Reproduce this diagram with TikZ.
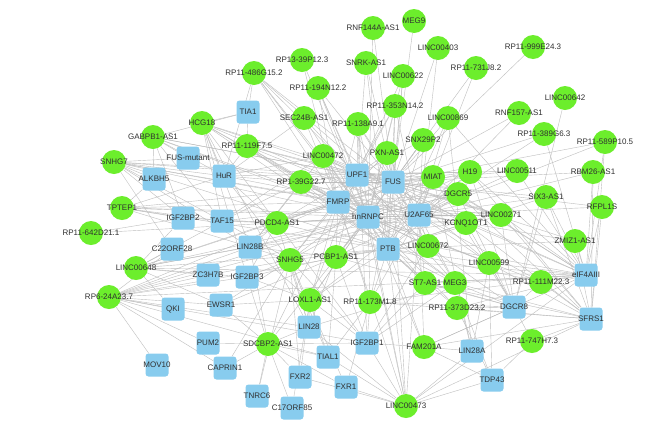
\documentclass[tikz,border=0pt]{standalone}
\usepackage{fontspec}
\setmainfont{Liberation Sans}
\pgfdeclarelayer{background}
\pgfsetlayers{background,main}
\definecolor{lncg}{HTML}{6CEE2C}
\definecolor{rbpb}{HTML}{88CCEE}
\definecolor{edgeg}{HTML}{BEBEBE}
\definecolor{txt}{HTML}{303030}
\tikzset{
  lnc/.style={circle,fill=lncg,minimum size=24pt,inner sep=0pt,font=\fontsize{8}{9}\selectfont,text=txt},
  rbp/.style={rectangle,rounded corners=3pt,fill=rbpb,minimum size=23pt,inner sep=0pt,font=\fontsize{8}{9}\selectfont,text=txt},
  edge/.style={draw=edgeg,line width=0.4pt}
}
\newcommand{\lbl}[1]{\makebox[0pt]{#1}}
\begin{document}
\begin{tikzpicture}[x=1pt,y=-1pt]
\useasboundingbox (0,0) rectangle (668,429);
% lncRNA nodes
\node[lnc] (g1) at (373,28) {\lbl{RNF144A-AS1}};
\node[lnc] (g2) at (414,21) {\lbl{MEG9}};
\node[lnc] (g3) at (438,48) {\lbl{LINC00403}};
\node[lnc] (g4) at (533,47) {\lbl{RP11-999E24.3}};
\node[lnc] (g5) at (476,68) {\lbl{RP11-731J8.2}};
\node[lnc] (g6) at (366,63) {\lbl{SNRK-AS1}};
\node[lnc] (g7) at (403,76) {\lbl{LINC00622}};
\node[lnc] (g8) at (302,60) {\lbl{RP13-39P12.3}};
\node[lnc] (g9) at (254,73) {\lbl{RP11-486G15.2}};
\node[lnc] (g10) at (318,88) {\lbl{RP11-194N12.2}};
\node[lnc] (g11) at (395,106) {\lbl{RP11-353N14.2}};
\node[lnc] (g12) at (448,118) {\lbl{LINC00869}};
\node[lnc] (g13) at (565,98) {\lbl{LINC00642}};
\node[lnc] (g14) at (519,113) {\lbl{RNF157-AS1}};
\node[lnc] (g15) at (544,134) {\lbl{RP11-389G6.3}};
\node[lnc] (g16) at (605,142) {\lbl{RP11-589P10.5}};
\node[lnc] (g17) at (304,118) {\lbl{SEC24B-AS1}};
\node[lnc] (g18) at (358,124) {\lbl{RP11-138A9.1}};
\node[lnc] (g19) at (423,140) {\lbl{SNX29P2}};
\node[lnc] (g20) at (202,123) {\lbl{HCG18}};
\node[lnc] (g21) at (153,137) {\lbl{GABPB1-AS1}};
\node[lnc] (g22) at (247,146) {\lbl{RP11-119F7.5}};
\node[lnc] (g23) at (114,162) {\lbl{SNHG7}};
\node[lnc] (g24) at (122,208) {\lbl{TPTEP1}};
\node[lnc] (g25) at (91,233) {\lbl{RP11-642D21.1}};
\node[lnc] (g26) at (136,268) {\lbl{LINC00648}};
\node[lnc] (g27) at (109,297) {\lbl{RP6-24A23.7}};
\node[lnc] (g28) at (323,156) {\lbl{LINC00472}};
\node[lnc] (g29) at (387,153) {\lbl{PXN-AS1}};
\node[lnc] (g30) at (433,177) {\lbl{MIAT}};
\node[lnc] (g31) at (301,182) {\lbl{RP1-39G22.7}};
\node[lnc] (g32) at (277,223) {\lbl{PDCD4-AS1}};
\node[lnc] (g33) at (336,257) {\lbl{PCBP1-AS1}};
\node[lnc] (g34) at (428,246) {\lbl{LINC00672}};
\node[lnc] (g35) at (290,260) {\lbl{SNHG5}};
\node[lnc] (g36) at (425,283) {\lbl{ST7-AS1}};
\node[lnc] (g37) at (470,172) {\lbl{H19}};
\node[lnc] (g38) at (517,171) {\lbl{LINC00511}};
\node[lnc] (g39) at (593,172) {\lbl{RBM26-AS1}};
\node[lnc] (g40) at (458,194) {\lbl{DGCR5}};
\node[lnc] (g41) at (546,197) {\lbl{SIX3-AS1}};
\node[lnc] (g42) at (602,207) {\lbl{RFPL1S}};
\node[lnc] (g43) at (501,215) {\lbl{LINC00271}};
\node[lnc] (g44) at (466,223) {\lbl{KCNQ1OT1}};
\node[lnc] (g45) at (575,241) {\lbl{ZMIZ1-AS1}};
\node[lnc] (g46) at (489,263) {\lbl{LINC00599}};
\node[lnc] (g47) at (541,282) {\lbl{RP11-111M22.3}};
\node[lnc] (g48) at (455,283) {\lbl{MEG3}};
\node[lnc] (g49) at (457,308) {\lbl{RP11-373D23.2}};
\node[lnc] (g50) at (532,341) {\lbl{RP11-747H7.3}};
\node[lnc] (g51) at (310,300) {\lbl{LOXL1-AS1}};
\node[lnc] (g52) at (370,302) {\lbl{RP11-173M1.8}};
\node[lnc] (g53) at (268,344) {\lbl{SDCBP2-AS1}};
\node[lnc] (g54) at (424,347) {\lbl{FAM201A}};
\node[lnc] (g55) at (406,406) {\lbl{LINC00473}};
% RBP nodes
\node[rbp] (b1) at (248,112) {\lbl{TIA1}};
\node[rbp] (b2) at (188,158) {\lbl{FUS-mutant}};
\node[rbp] (b3) at (224,176) {\lbl{HuR}};
\node[rbp] (b4) at (154,179) {\lbl{ALKBH5}};
\node[rbp] (b5) at (183,218) {\lbl{IGF2BP2}};
\node[rbp] (b6) at (222,221) {\lbl{TAF15}};
\node[rbp] (b7) at (172,249) {\lbl{C22ORF28}};
\node[rbp] (b8) at (208,275) {\lbl{ZC3H7B}};
\node[rbp] (b9) at (173,309) {\lbl{QKI}};
\node[rbp] (b10) at (221,305) {\lbl{EWSR1}};
\node[rbp] (b11) at (208,343) {\lbl{PUM2}};
\node[rbp] (b12) at (157,365) {\lbl{MOV10}};
\node[rbp] (b13) at (225,368) {\lbl{CAPRIN1}};
\node[rbp] (b14) at (357,175) {\lbl{UPF1}};
\node[rbp] (b15) at (393,182) {\lbl{FUS}};
\node[rbp] (b16) at (338,202) {\lbl{FMRP}};
\node[rbp] (b17) at (368,217) {\lbl{hnRNPC}};
\node[rbp] (b18) at (419,215) {\lbl{U2AF65}};
\node[rbp] (b19) at (250,247) {\lbl{LIN28B}};
\node[rbp] (b20) at (388,249) {\lbl{PTB}};
\node[rbp] (b21) at (247,277) {\lbl{IGF2BP3}};
\node[rbp] (b22) at (586,275) {\lbl{eIF4AIII}};
\node[rbp] (b23) at (514,307) {\lbl{DGCR8}};
\node[rbp] (b24) at (591,319) {\lbl{SFRS1}};
\node[rbp] (b25) at (472,351) {\lbl{LIN28A}};
\node[rbp] (b26) at (492,380) {\lbl{TDP43}};
\node[rbp] (b27) at (309,327) {\lbl{LIN28}};
\node[rbp] (b28) at (367,343) {\lbl{IGF2BP1}};
\node[rbp] (b29) at (328,357) {\lbl{TIAL1}};
\node[rbp] (b30) at (300,377) {\lbl{FXR2}};
\node[rbp] (b31) at (346,387) {\lbl{FXR1}};
\node[rbp] (b32) at (257,396) {\lbl{TNRC6}};
\node[rbp] (b33) at (292,408) {\lbl{C17ORF85}};
\begin{pgfonlayer}{background}
\fill[white] (0,0) rectangle (668,429);
\foreach \a/\l in {g1/{15,17}, g2/{15}, g3/{15,18}, g4/{15}, g5/{15,18}, g6/{14,15,20}, g7/{14,15,17,20}, g8/{16,17}, g9/{1,14,15,16,17,18,20,3}, g10/{14,15,16,17,20}, g11/{14,15,16,17,20,18}, g12/{15,18,22,20,25}, g13/{23}, g14/{15,18}, g15/{15,18,22}, g16/{15,18,22,24}, g17/{14,16,17,3}, g18/{14,15,16,17,20,18,28}, g19/{15,18,17,20,14}, g20/{1,3,14,16,17,20,6,19,21,27,28,15,18}, g21/{1,2,3,4,5,6,14,16,17,15}, g22/{1,3,14,15,16,17,18,20}, g23/{2,3,4,5,6,14,15,16,17,18,20,19,7}, g24/{4,5,6,3,16,17,20,18,15,19}, g25/{5,18}, g26/{5,6,7,8,9,10,19,21,16,17,20,18,15,22}, g27/{7,8,9,10,11,12,13,19,21,16,17,20,27,28,29,18,22}, g28/{14,15,16,17,18,20,3,6,19,22}, g29/{14,15,16,17,18,20}, g30/{14,15,16,17,18,20,22,23,25}, g31/{3,6,14,15,16,17,18,20,19}, g32/{3,5,6,19,21,14,16,17,20,18,15,27}, g33/{14,15,16,17,18,20,19,21,27,28,29,22,23,10}, g34/{15,16,17,18,20,22,23,28,14}, g35/{3,6,10,13,19,21,14,16,17,20,15,27,29,30,8,28,32,31}, g36/{16,17,18,20,22,23,24,28,15}, g37/{14,15,16,17,18,20,22,24,23,3}, g38/{15,18,22,14}, g39/{15,18,22,24}, g40/{14,15,16,17,18,20,22,23,24,6,19}, g41/{15,18,22,24,20,23}, g42/{18,22,24,15}, g43/{15,16,17,18,20,22,24,23,14}, g44/{14,15,16,17,18,20,22,24,23,3,6,19}, g45/{22,18,24,20,15}, g46/{15,17,18,20,22,23,24,25,26,16}, g47/{22,24,23,18,20,17}, g48/{14,15,16,17,18,20,22,23,24,25,26,28,27}, g49/{20,22,23,24,26,17}, g50/{23,24,26}, g51/{14,16,17,20,19,21,27,28,29,30,15,18,10,33}, g52/{16,17,20,18,28,29,22,23,24,15,31}, g53/{10,11,13,19,21,27,28,29,30,32,33,16,17,31}, g54/{20,22,23,24,25,26,28,17,18}, g55/{16,17,20,18,22,24,25,26,27,28,29,31,30,15,14}}{%
  \foreach \b in \l {\draw[edge] (\a) -- (b\b);}%
}
\end{pgfonlayer}
\end{tikzpicture}
\end{document}
